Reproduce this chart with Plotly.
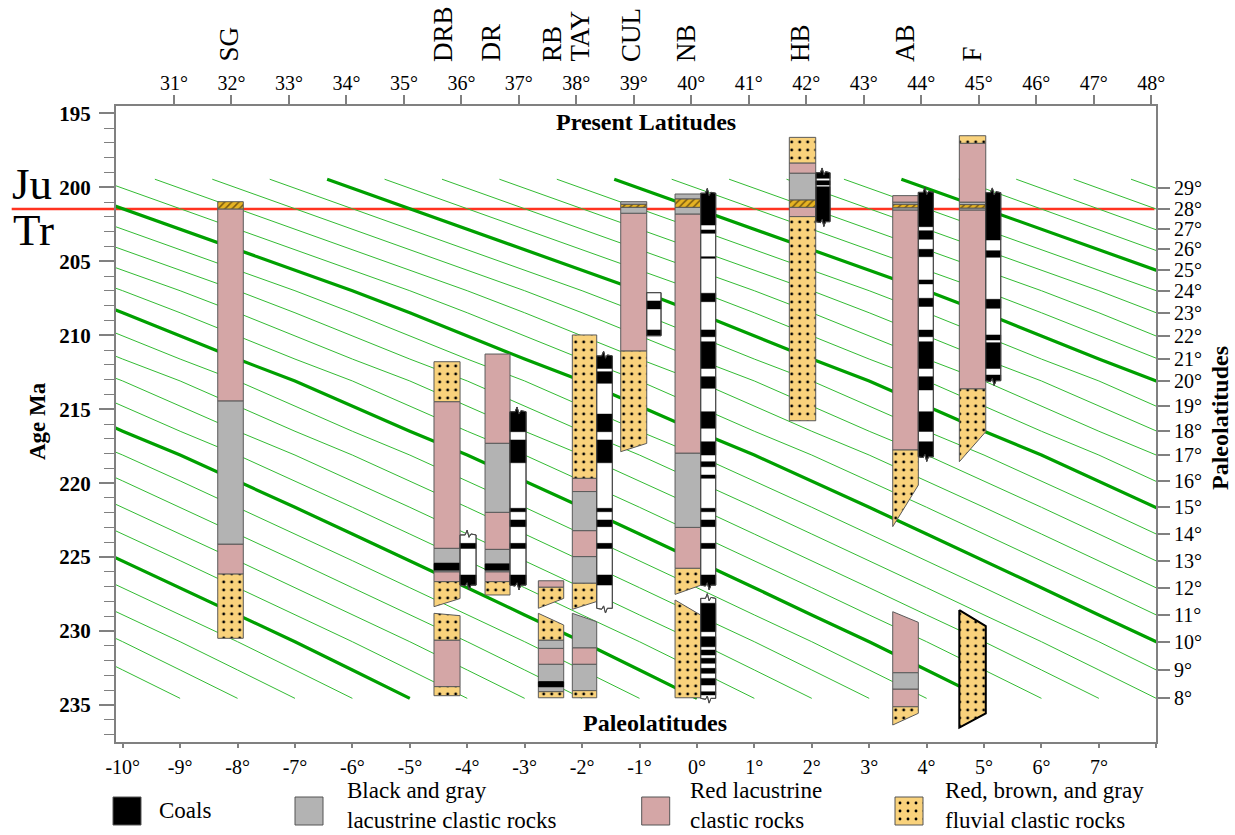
import plotly.graph_objects as go

W, H = 1235, 835
FONT = "Liberation Serif"

# ---------------- data ----------------
# Paleolatitude isolines: every line has the same shape; a line of paleolatitude p
# passes through (p - ISO_OFFSET[i], ISO_AGE[i]).
ISO_AGE = [199.45, 200.06, 201.46, 202.80, 204.19, 205.57, 206.99, 208.48, 210.03, 211.61,
           213.09, 214.78, 216.49, 218.10, 219.85, 221.63, 223.44, 225.24, 227.07, 228.91,
           230.72, 232.63, 234.55]
ISO_OFFSET = [21.44, 21, 20, 19, 18, 17, 16, 15, 14, 13, 12, 11, 10, 9, 8, 7, 6, 5, 4, 3, 2, 1, 0]
ISO_LATS = [-9, -8, -7, -6, -5, -4, -3, -2, -1, 0, 1, 2, 3, 4, 5, 6, 7, 8, 9, 10,
            11, 12, 13, 14, 15, 16, 17, 18, 19, 20, 21, 22, 23, 24, 25, 26, 27, 28, 29]
THICK_LATS = [-5, 0, 5, 10, 15, 20, 25]

TJ_AGE = 201.46  # Jurassic / Triassic boundary

BOTTOM_TICKS = [-10, -9, -8, -7, -6, -5, -4, -3, -2, -1, 0, 1, 2, 3, 4, 5, 6, 7, 8]
BOTTOM_TEXT = ["-10°", "-9°", "-8°", "-7°", "-6°", "-5°", "-4°", "-3°", "-2°", "-1°",
               "0°", "1°", "2°", "3°", "4°", "5°", "6°", "7°", ""]
TOP_TICKS = [31, 32, 33, 34, 35, 36, 37, 38, 39, 40, 41, 42, 43, 44, 45, 46, 47, 48]
TOP_TEXT = ["31°", "32°", "33°", "34°", "35°", "36°", "37°", "38°", "39°", "40°",
            "41°", "42°", "43°", "44°", "45°", "46°", "47°", "48°"]
AGE_TICKS = [195, 200, 205, 210, 215, 220, 225, 230, 235]
AGE_TEXT = ["195", "200", "205", "210", "215", "220", "225", "230", "235"]
RIGHT_TICK_AGES = [200.06, 201.46, 202.80, 204.19, 205.57, 206.99, 208.48, 210.03, 211.61,
                   213.09, 214.78, 216.49, 218.10, 219.85, 221.63, 223.44, 225.24, 227.07,
                   228.91, 230.72, 232.63, 234.55]
RIGHT_TICK_TEXT = ["29°", "28°", "27°", "26°", "25°", "24°", "23°", "22°", "21°", "20°",
                   "19°", "18°", "17°", "16°", "15°", "14°", "13°", "12°", "11°", "10°",
                   "9°", "8°"]

SECTION_NAMES = ["SG", "DRB", "DR", "RB", "TAY", "CUL", "NB", "HB", "AB", "F"]
# column edges on the paleolatitude (bottom) axis
SECTION_X = {
    "SG": (-8.345, -7.900), "DRB": (-4.579, -4.125), "DR": (-3.690, -3.255),
    "RB": (-2.762, -2.320), "TAY": (-2.170, -1.745), "CUL": (-1.327, -0.874),
    "NB": (-0.381, 0.066), "HB": (1.609, 2.069), "AB": (3.410, 3.856), "F": (4.570, 5.030),
}
# units: (lithology, top, bottom) or (lithology, topLeft, topRight, bottomLeft, bottomRight), ages in Ma
SG_UNITS = [("tj", 200.97, 201.46), ("red", 201.46, 214.45), ("gray", 214.45, 224.12),
            ("red", 224.12, 226.15), ("fluv", 226.15, 230.49)]
DRB_UNITS = [("fluv", 211.79, 214.49), ("red", 214.49, 224.41), ("gray", 224.41, 225.42),
             ("coal", 225.42, 225.87), ("gray", 225.87, 225.99), ("red", 225.99, 226.66),
             ("fluv", 226.66, 226.66, 228.35, 227.80),
             ("fluv", 228.80, 228.96, 230.61, 230.61), ("red", 230.61, 233.76),
             ("fluv", 233.76, 234.37)]
DR_UNITS = [("red", 211.27, 217.31), ("gray", 217.31, 221.97), ("red", 221.97, 224.48),
            ("gray", 224.48, 225.47), ("coal", 225.47, 225.87), ("gray", 225.87, 225.99),
            ("red", 225.99, 226.66), ("fluv", 226.66, 227.56)]
RB_UNITS = [("red", 226.60, 227.04), ("fluv", 227.04, 227.04, 228.46, 227.79),
            ("fluv", 228.80, 229.59, 230.61, 230.61), ("gray", 230.61, 231.17),
            ("red", 231.17, 232.25), ("gray", 232.25, 233.43), ("coal", 233.43, 233.76),
            ("gray", 233.76, 234.10), ("fluv", 234.10, 234.51)]
TAY_UNITS = [("fluv", 209.98, 219.67), ("red", 219.67, 220.57), ("gray", 220.57, 223.21),
             ("red", 223.21, 224.97), ("gray", 224.97, 226.77),
             ("fluv", 226.77, 226.77, 228.53, 228.00),
             ("gray", 228.80, 229.37, 231.13, 231.13), ("red", 231.13, 232.25),
             ("gray", 232.25, 234.03), ("fluv", 234.03, 234.51)]
CUL_UNITS = [("gray", 200.97, 201.15), ("tj", 201.15, 201.35), ("gray", 201.35, 201.75),
             ("red", 201.75, 211.07), ("fluv", 211.07, 211.07, 217.87, 217.31)]
NB_UNITS = [("gray", 200.45, 200.79), ("tj", 200.79, 201.35), ("gray", 201.35, 201.80),
            ("red", 201.80, 217.98), ("gray", 217.98, 222.99), ("red", 222.99, 225.76),
            ("fluv", 225.76, 225.76, 227.52, 226.90),
            ("fluv", 227.90, 228.92, 234.51, 234.51)]
HB_UNITS = [("fluv", 196.62, 198.35), ("red", 198.35, 199.05), ("gray", 199.05, 200.86),
            ("tj", 200.86, 201.35), ("red", 201.35, 201.98), ("fluv", 201.98, 215.78)]
AB_UNITS = [("red", 200.56, 201.01), ("gray", 201.01, 201.15), ("tj", 201.15, 201.38),
            ("gray", 201.38, 201.53), ("red", 201.53, 217.76),
            ("fluv", 217.76, 217.76, 222.94, 220.13),
            ("red", 228.69, 229.41, 232.82, 232.82), ("gray", 232.82, 233.92),
            ("red", 233.92, 235.12), ("fluv", 235.12, 235.12, 236.35, 235.56)]
F_UNITS = [("fluv", 196.51, 197.02), ("red", 197.02, 201.01), ("gray", 201.01, 201.17),
           ("tj", 201.17, 201.40), ("gray", 201.40, 201.53), ("red", 201.53, 213.63),
           ("fluv", 213.63, 213.63, 218.55, 216.52),
           ("fluv", 228.58, 229.66, 236.53, 235.56)]
SECTION_UNITS = {"SG": SG_UNITS, "DRB": DRB_UNITS, "DR": DR_UNITS, "RB": RB_UNITS,
                 "TAY": TAY_UNITS, "CUL": CUL_UNITS, "NB": NB_UNITS, "HB": HB_UNITS,
                 "AB": AB_UNITS, "F": F_UNITS}
BOLD_OUTLINE_UNITS = [("F", 7)]

# magnetostratigraphy columns: x edges, top, bottom, black (normal) intervals, broken ends
DRB_MAG = ((-4.125, -3.846), 223.50, 226.89, [(224.07, 224.41), (226.21, 226.89)], True)
DR_MAG = ((-3.255, -2.976), 215.17, 226.89,
          [(215.17, 216.52), (217.08, 218.62), (221.70, 221.93), (222.49, 222.94),
           (224.07, 224.41), (226.21, 226.89)], True)
TAY_MAG = ((-1.745, -1.473), 211.40, 228.46,
           [(211.40, 212.24), (212.46, 213.25), (215.33, 216.52), (217.08, 218.62),
            (221.70, 221.93), (222.49, 222.94), (224.07, 224.41), (226.21, 226.89)], True)
CUL_MAG = ((-0.874, -0.625), 207.12, 210.03, [(207.68, 208.22), (209.64, 210.03)], False)
NB_MAG = ((0.066, 0.327), 200.40, 226.89,
          [(200.40, 202.55), (202.88, 203.11), (204.69, 204.80), (207.16, 207.73),
           (209.64, 210.10), (210.44, 212.24), (212.80, 213.59), (215.17, 216.29),
           (217.20, 218.10), (218.55, 218.89), (219.45, 219.67), (221.70, 221.93),
           (222.49, 222.94), (224.07, 224.41), (226.21, 226.89)], True)
NB_LOWER_MAG = ((0.066, 0.327), 227.79, 234.55,
                [(228.12, 230.04), (230.38, 231.06), (231.28, 231.62), (231.84, 232.18),
                 (232.52, 232.86), (233.20, 233.65), (234.10, 234.32)], True)
HB_MAG = ((2.074, 2.318), 199.01, 202.32, [(199.01, 199.39), (199.55, 199.84), (199.96, 202.32)], True)
AB_MAG = ((3.856, 4.117), 200.34, 218.21,
          [(200.34, 202.66), (202.93, 203.51), (204.19, 204.69), (206.26, 206.53),
           (207.50, 208.05), (209.65, 210.10), (210.44, 212.24), (212.80, 213.70),
           (215.17, 216.50), (217.20, 218.21)], True)
F_MAG = ((5.030, 5.291), 200.36, 213.07,
         [(200.36, 203.56), (204.28, 204.73), (207.57, 208.18), (209.98, 210.32),
          (210.50, 212.24), (212.69, 213.07)], True)
MAG_COLUMNS = [DRB_MAG, DR_MAG, TAY_MAG, CUL_MAG, NB_MAG, NB_LOWER_MAG, HB_MAG, AB_MAG, F_MAG]

LEGEND_LITHS = ["coal", "gray", "red", "fluv"]
LEGEND_LABELS = ["Coals", "Black and gray<br>lacustrine clastic rocks",
                 "Red lacustrine<br>clastic rocks",
                 "Red, brown, and gray<br>fluvial clastic rocks"]

# ---------------- styles / layout constants ----------------
LITH_COLOR = {"red": "#D4A6A6", "gray": "#B3B3B3", "fluv": "#F9D27C", "coal": "#000000",
              "tj": "#E6B322"}
LITH_PATTERN = {
    "fluv": dict(shape=".", bgcolor="#F9D27C", fgcolor="#000000", size=8, solidity=0.1,
                 fillmode="replace"),
    "tj": dict(shape="/", bgcolor="#E6B322", fgcolor="#7A5A10", size=5, solidity=0.3,
               fillmode="replace"),
}
OUTLINE = "#5A5A5A"
AXIS_C = "#808080"
THIN_GREEN = "#33BB33"
THICK_GREEN = "#00A000"

PL, PR, PT, PB = 115.7, 1156.3, 106.0, 741.7     # plot area in pixels
X_RANGE = [-10.122, 8.0]
X2_RANGE = [29.986, 48.09]
Y_RANGE = [237.48, 194.5]

SECTION_LABEL_PX = [228, 443, 490.5, 552, 579, 631, 686, 800, 905, 971]
LEGEND_SWATCH_PX = [113, 295, 641.7, 895]
LEGEND_TEXT_PX = [156.7, 345, 688.3, 943.3]


def pxx(p):
    return p / W


def pxy(p):
    return 1 - p / H


fig = go.Figure()

# ---- paleolatitude isolines ----
def iso_xy(lats):
    xs, ys = [], []
    for p in lats:
        for off, age in zip(ISO_OFFSET, ISO_AGE):
            xs.append(p - off)
            ys.append(age)
        xs.append(None)
        ys.append(None)
    return xs, ys


thin_lats = [p for p in ISO_LATS if p not in THICK_LATS]
tx, ty = iso_xy(thin_lats)
fig.add_trace(go.Scatter(x=tx, y=ty, mode="lines", line=dict(color=THIN_GREEN, width=1),
                         hoverinfo="skip", showlegend=False))
kx, ky = iso_xy(THICK_LATS)
fig.add_trace(go.Scatter(x=kx, y=ky, mode="lines", line=dict(color=THICK_GREEN, width=3.2),
                         hoverinfo="skip", showlegend=False))

# ---- lithologic columns ----
groups = {k: ([], []) for k in LITH_COLOR}
bold_x, bold_y = [], []
for name in SECTION_NAMES:
    x0, x1 = SECTION_X[name]
    for i, u in enumerate(SECTION_UNITS[name]):
        if len(u) == 3:
            lith, t, b = u
            tl = tr = t
            bl = br = b
        else:
            lith, tl, tr, bl, br = u
        xs = [x0, x1, x1, x0, x0, None]
        ys = [tl, tr, br, bl, tl, None]
        groups[lith][0].extend(xs)
        groups[lith][1].extend(ys)
        if (name, i) in BOLD_OUTLINE_UNITS:
            bold_x.extend(xs)
            bold_y.extend(ys)

for lith in ["red", "gray", "fluv", "tj", "coal"]:
    xs, ys = groups[lith]
    if not xs:
        continue
    kw = {}
    if lith in LITH_PATTERN:
        kw["fillpattern"] = LITH_PATTERN[lith]
    fig.add_trace(go.Scatter(x=xs, y=ys, mode="lines", fill="toself",
                             fillcolor=LITH_COLOR[lith],
                             line=dict(color=OUTLINE if lith != "coal" else "#000000", width=1),
                             hoverinfo="skip", showlegend=False, **kw))
fig.add_trace(go.Scatter(x=bold_x, y=bold_y, mode="lines", line=dict(color="#000000", width=2),
                         hoverinfo="skip", showlegend=False))

# ---- magnetostratigraphy columns ----
NOTCH = 0.32


def top_edge(x0, x1, t, broken):
    w = x1 - x0
    xm = (x0 + x1) / 2
    if not broken:
        return [x0, x1], [t, t]
    return ([x0, xm - 0.18 * w, xm - 0.06 * w, xm + 0.06 * w, xm + 0.18 * w, x1],
            [t, t, t - NOTCH, t + 0.5 * NOTCH, t - 0.2 * NOTCH, t])


def bottom_edge(x0, x1, b, broken):
    w = x1 - x0
    xm = (x0 + x1) / 2
    if not broken:
        return [x1, x0], [b, b]
    return ([x1, xm + 0.18 * w, xm + 0.06 * w, xm - 0.06 * w, xm - 0.18 * w, x0],
            [b, b, b + NOTCH, b - 0.5 * NOTCH, b + 0.2 * NOTCH, b])


wx, wy, bx, by = [], [], [], []
for (x0, x1), top, bot, bands, broken in MAG_COLUMNS:
    txs, tys = top_edge(x0, x1, top, broken)
    bxs, bys = bottom_edge(x0, x1, bot, broken)
    wx.extend(txs + bxs + [txs[0], None])
    wy.extend(tys + bys + [tys[0], None])
    for bt, bb in bands:
        if abs(bt - top) < 1e-6:
            ex, ey = top_edge(x0, x1, bt, broken)
        else:
            ex, ey = [x0, x1], [bt, bt]
        if abs(bb - bot) < 1e-6:
            fx, fy = bottom_edge(x0, x1, bb, broken)
        else:
            fx, fy = [x1, x0], [bb, bb]
        bx.extend(ex + fx + [ex[0], None])
        by.extend(ey + fy + [ey[0], None])

fig.add_trace(go.Scatter(x=wx, y=wy, mode="lines", fill="toself", fillcolor="#FFFFFF",
                         line=dict(color="#4A4A4A", width=1), hoverinfo="skip", showlegend=False))
fig.add_trace(go.Scatter(x=bx, y=by, mode="lines", fill="toself", fillcolor="#000000",
                         line=dict(color="#000000", width=0.5), hoverinfo="skip", showlegend=False))
fig.add_trace(go.Scatter(x=wx, y=wy, mode="lines",
                         line=dict(color="#4A4A4A", width=1), hoverinfo="skip", showlegend=False))

# dummy traces binding the secondary axes
fig.add_trace(go.Scatter(x=[None], y=[None], xaxis="x2", yaxis="y", showlegend=False))
fig.add_trace(go.Scatter(x=[None], y=[None], xaxis="x", yaxis="y2", showlegend=False))

# ---- legend swatches (auxiliary pixel axes) ----
SW = 28
LEG_TOP = 797
for lith, sx in zip(LEGEND_LITHS, LEGEND_SWATCH_PX):
    kw = {}
    if lith in LITH_PATTERN:
        kw["fillpattern"] = dict(LITH_PATTERN[lith], size=8)
    fig.add_trace(go.Scatter(x=[sx, sx + SW, sx + SW, sx, sx],
                             y=[LEG_TOP, LEG_TOP, LEG_TOP + SW, LEG_TOP + SW, LEG_TOP],
                             mode="lines", fill="toself", fillcolor=LITH_COLOR[lith],
                             line=dict(color="#555555", width=1), xaxis="x3", yaxis="y3",
                             hoverinfo="skip", showlegend=False, **kw))

# ---- red Jurassic/Triassic boundary ----
fig.add_shape(type="line", xref="paper", yref="y", x0=pxx(11.7), x1=pxx(1154.5),
              y0=TJ_AGE, y1=TJ_AGE, line=dict(color="#FF3320", width=2.6), layer="below")

# ---- annotations ----
ann = []
for name, lx in zip(SECTION_NAMES, SECTION_LABEL_PX):
    ann.append(dict(text=name, x=pxx(lx), y=pxy(64), xref="paper", yref="paper",
                    textangle=-90, xanchor="center", yanchor="bottom", showarrow=False,
                    font=dict(family=FONT, size=27, color="black")))
ann.append(dict(text="Ju", x=pxx(32), y=pxy(184), xref="paper", yref="paper", showarrow=False,
                xanchor="center", yanchor="middle", font=dict(family=FONT, size=45, color="black")))
ann.append(dict(text="Tr", x=pxx(33), y=pxy(230), xref="paper", yref="paper", showarrow=False,
                xanchor="center", yanchor="middle", font=dict(family=FONT, size=45, color="black")))
ann.append(dict(text="Age Ma", x=pxx(37), y=pxy(421), xref="paper", yref="paper", showarrow=False,
                textangle=-90, xanchor="center", yanchor="middle",
                font=dict(family=FONT, size=23, color="black", weight="bold")))
ann.append(dict(text="Paleolatitudes", x=pxx(1220), y=pxy(418), xref="paper", yref="paper",
                showarrow=False, textangle=-90, xanchor="center", yanchor="middle",
                font=dict(family=FONT, size=24, color="black", weight="bold")))
ann.append(dict(text="Present Latitudes", x=pxx(646), y=pxy(122), xref="paper", yref="paper",
                showarrow=False, xanchor="center", yanchor="middle",
                font=dict(family=FONT, size=24, color="black", weight="bold")))
ann.append(dict(text="Paleolatitudes", x=pxx(655), y=pxy(723), xref="paper", yref="paper",
                showarrow=False, xanchor="center", yanchor="middle",
                font=dict(family=FONT, size=24, color="black", weight="bold")))
for label, tx_ in zip(LEGEND_LABELS, LEGEND_TEXT_PX):
    cy = 810 if "<br>" not in label else 805
    ann.append(dict(text=label, x=pxx(tx_), y=pxy(cy), xref="paper", yref="paper",
                    showarrow=False, xanchor="left", yanchor="middle", align="left",
                    font=dict(family=FONT, size=23, color="black")))

tick_font = dict(family=FONT, size=20, color="black")
common = dict(showgrid=False, zeroline=False, showline=True, linecolor=AXIS_C, linewidth=1.5,
              ticks="outside", tickcolor=AXIS_C, tickwidth=1.5, automargin=False)

fig.update_layout(
    width=W, height=H, autosize=False,
    margin=dict(l=0, r=0, t=0, b=0, pad=0, autoexpand=False),
    paper_bgcolor="white", plot_bgcolor="white", showlegend=False,
    annotations=ann,
    xaxis=dict(domain=[pxx(PL), pxx(PR)], range=X_RANGE, anchor="y", tickmode="array",
               tickvals=BOTTOM_TICKS, ticktext=BOTTOM_TEXT, ticklen=5, tickfont=tick_font,
               ticklabelstandoff=2, **common),
    xaxis2=dict(overlaying="x", side="top", range=X2_RANGE, anchor="y", tickmode="array",
                tickvals=TOP_TICKS, ticktext=TOP_TEXT, ticklen=9, tickfont=tick_font,
                ticklabelstandoff=-3, **common),
    yaxis=dict(domain=[pxy(PB), pxy(PT)], range=Y_RANGE, anchor="x", tickmode="array",
               tickvals=AGE_TICKS, ticktext=AGE_TEXT, ticklen=15,
               tickfont=dict(family=FONT, size=21, color="black", weight="bold"),
               minor=dict(ticks="outside", ticklen=10, tickcolor=AXIS_C, tickwidth=1.3,
                          tickmode="linear", tick0=195, dtick=1),
               ticklabelstandoff=4, **common),
    yaxis2=dict(overlaying="y", side="right", range=Y_RANGE, anchor="x", tickmode="array",
                tickvals=RIGHT_TICK_AGES, ticktext=RIGHT_TICK_TEXT, ticklen=12,
                tickfont=tick_font, **common),
    xaxis3=dict(domain=[0, 1], range=[0, W], anchor="y3", visible=False, fixedrange=True,
                automargin=False),
    yaxis3=dict(domain=[0, 60 / H], range=[H, H - 60], anchor="x3", visible=False,
                fixedrange=True, automargin=False),
)

# page body margin removed so the figure's pixels line up with the window
fig.write_html("out.html", config={"displayModeBar": False},
               post_script="document.body.style.margin='0px';")
